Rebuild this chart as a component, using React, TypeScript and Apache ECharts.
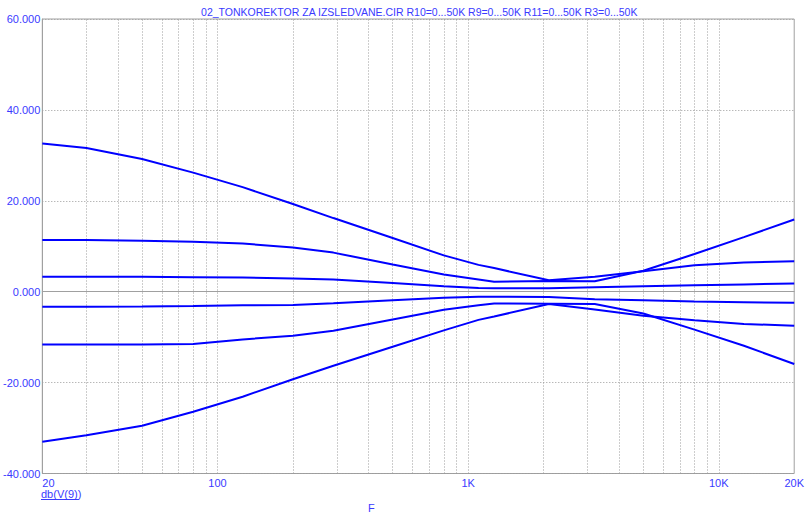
import React, { useEffect, useRef } from "react";
import * as echarts from "echarts";

const titleText =
  "02_TONKOREKTOR ZA IZSLEDVANE.CIR R10=0...50K R9=0...50K R11=0...50K R3=0...50K";
const yAxisName = "db(V(9))";
const xAxisName = "F";

const freqs = [20, 30, 50, 80, 126, 200, 290, 500, 800, 1100, 1270, 2100, 3200, 5000, 8000, 12600, 20000];

const curve1 = [32.6, 31.6, 29.2, 26.2, 23.0, 19.3, 16.2, 11.8, 8.0, 5.9, 5.2, 2.5, 3.3, 4.5, 5.8, 6.4, 6.7];
const curve2 = [11.4, 11.4, 11.2, 11.0, 10.6, 9.7, 8.6, 6.0, 3.8, 2.7, 2.2, 2.35, 2.3, 4.6, 8.3, 12.0, 15.9];
const curve3 = [3.3, 3.3, 3.3, 3.2, 3.1, 2.9, 2.7, 1.9, 1.2, 0.8, 0.77, 0.75, 1.0, 1.2, 1.4, 1.6, 1.8];
const curve4 = [-3.3, -3.3, -3.25, -3.15, -3.0, -2.9, -2.55, -1.9, -1.35, -1.1, -1.1, -1.15, -1.65, -1.9, -2.15, -2.3, -2.45];
const curve5 = [-11.6, -11.6, -11.6, -11.5, -10.5, -9.7, -8.6, -6.1, -3.95, -3.0, -2.6, -2.65, -2.7, -4.8, -8.35, -11.9, -15.9];
const curve6 = [-33.0, -31.6, -29.5, -26.4, -23.1, -19.25, -16.3, -12.1, -8.5, -6.2, -5.45, -2.7, -3.9, -5.3, -6.3, -7.1, -7.5];

const curves = [curve1, curve2, curve3, curve4, curve5, curve6];

const gridFreqs = [
  30, 40, 50, 60, 70, 80, 90, 100,
  200, 300, 400, 500, 600, 700, 800, 900, 1000,
  2000, 3000, 4000, 5000, 6000, 7000, 8000, 9000, 10000,
];

const yMin = -40;
const yMax = 60;
const yStep = 20;
const xMin = 20;
const xMax = 20000;

const TEXT = "#3a3aff";
const LINE = "#0000ff";
const GRID = "#9a9a9a";
const FONT = "Arial, 'Liberation Sans', sans-serif";

export default function App() {
  const ref = useRef<HTMLDivElement>(null);

  useEffect(() => {
    document.body.style.margin = "0";
    if (!ref.current) return;
    const chart = echarts.init(ref.current, null, { renderer: "svg" });

    const gridLeft = 41;
    const gridRight = 9.5;
    const gridTop = 19;
    const gridBottom = 38.5;
    const plotCenter = (gridLeft + (807 - gridRight)) / 2;

    const series: any[] = curves.map((c, i) => ({
      type: "line",
      data: freqs.map((f, j) => [f, c[j]]),
      showSymbol: false,
      symbol: "none",
      smooth: false,
      lineStyle: { color: LINE, width: 2 },
      itemStyle: { color: LINE },
      z: 3,
      silent: true,
      markLine:
        i === 0
          ? {
              silent: true,
              symbol: ["none", "none"],
              label: { show: false },
              lineStyle: { type: [1, 2], color: GRID, width: 1 },
              emphasis: { disabled: true },
              data: gridFreqs.map((f) => ({ xAxis: f })),
              z: 1,
            }
          : undefined,
    }));

    chart.setOption({
      animation: false,
      grid: {
        left: gridLeft,
        right: gridRight,
        top: gridTop,
        bottom: gridBottom,
        show: true,
        borderColor: "#a0a0a0",
        borderWidth: 1,
        backgroundColor: "transparent",
      },
      xAxis: {
        type: "log",
        logBase: 10,
        min: xMin,
        max: xMax,
        axisLine: { show: true, lineStyle: { color: "#a0a0a0", width: 1 } },
        axisTick: { show: false },
        splitLine: { show: false },
        minorTick: { show: false },
        axisLabel: {
          color: TEXT,
          fontSize: 11,
          fontFamily: FONT,
          margin: 4,
          showMinLabel: true,
          showMaxLabel: true,
          alignMinLabel: "left",
          formatter: (v: number) => {
            const r = Math.round(v);
            return r >= 1000 ? r / 1000 + "K" : String(r);
          },
        },
      },
      yAxis: {
        type: "value",
        min: yMin,
        max: yMax,
        interval: yStep,
        axisLine: { show: true, lineStyle: { color: "#a0a0a0", width: 1 } },
        axisTick: { show: false },
        splitLine: { show: true, lineStyle: { type: [1, 2], color: GRID, width: 1 } },
        axisLabel: {
          color: TEXT,
          fontSize: 11,
          fontFamily: FONT,
          margin: 2,
          formatter: (v: number) => v.toFixed(3),
        },
      },
      graphic: [
        {
          type: "text",
          x: plotCenter,
          y: 12,
          style: {
            text: titleText,
            fill: TEXT,
            font: `10.5px ${FONT}`,
            textAlign: "center",
            textVerticalAlign: "middle",
          },
        },
        {
          type: "text",
          x: 41,
          y: 494,
          style: {
            text: yAxisName,
            fill: TEXT,
            font: `11px ${FONT}`,
            textAlign: "left",
            textVerticalAlign: "middle",
          },
        },
        {
          type: "line",
          shape: { x1: 41, y1: 499.5, x2: 79, y2: 499.5 },
          style: { stroke: TEXT, lineWidth: 1 },
        },
        {
          type: "text",
          x: 368,
          y: 507.5,
          style: {
            text: xAxisName,
            fill: TEXT,
            font: `11px ${FONT}`,
            textAlign: "left",
            textVerticalAlign: "middle",
          },
        },
      ],
      series,
    });

    return () => chart.dispose();
  }, []);

  return <div ref={ref} style={{ width: 807, height: 512 }} />;
}
